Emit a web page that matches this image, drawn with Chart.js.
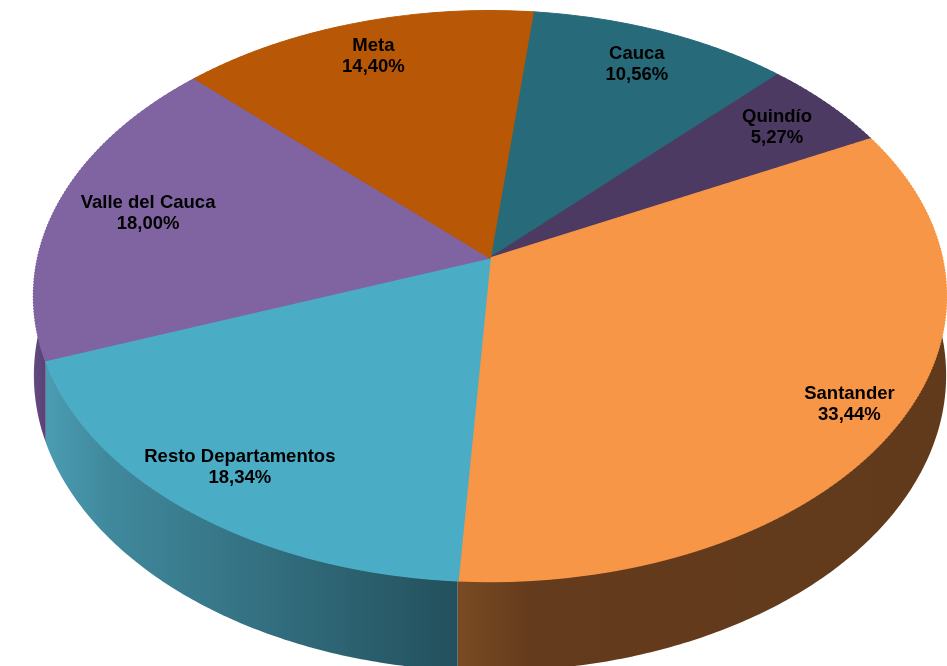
<!DOCTYPE html>
<html>
<head>
<meta charset="utf-8">
<script src="https://cdn.jsdelivr.net/npm/chart.js@4"></script>
<style>
  body { margin: 0; background: #fff; }
  #wrap { width: 947px; height: 666px; position: relative; }
</style>
</head>
<body>
<div id="wrap"><canvas id="pieChart"></canvas></div>
<script>
const departments = ['Cauca', 'Quindío', 'Santander', 'Resto Departamentos', 'Valle del Cauca', 'Meta'];
const shares = [10.56, 5.27, 33.44, 18.34, 18.00, 14.40];

const topColors = ['#276a7a', '#4d3a62', '#f79646', '#4bacc6', '#8064a2', '#b85705'];
// side shading: left, near-left, right
const sideColors = [
    ['#1f5663', '#1d5360', '#1a4a56'],
    ['#3e2f50', '#3b2c4c', '#352844'],
    ['#7a4b23', '#643b1c', '#613a1c'],
    ['#4b9cb2', '#40899d', '#23505c'],
    ['#6a5089', '#61497e', '#5a4276'],
    ['#8f4504', '#884104', '#7e3c03']
];
// how far out each label sits, as a fraction of the radius
const labelRadius = [0.84, 0.84, 0.89, 0.845, 0.79, 0.845];

// tilted pie seen in perspective, sizes relative to the pie radius
const WIDEN = 453 / 248;
const TILT = 281 / 248;
const PERSP = 0.133;
const THICK = 78 / 248;
const STRIP = 3;          // px height of each affine band of the top face

function frontRanges(start, end) {
    const out = [];
    for (let k = -2; k <= 2; k++) {
        const lo = Math.max(start, 2 * Math.PI * k);
        const hi = Math.min(end, 2 * Math.PI * k + Math.PI);
        if (hi > lo) out.push([lo, hi]);
    }
    return out;
}

function camera(chart) {
    const a = chart.getDatasetMeta(0).data[0];
    const R = a.outerRadius;
    return {
        ox: a.x, oy: a.y, R,
        A: R * WIDEN, B: R * TILT, D: R * THICK,
        proj(u, v) {
            const w = 1 - PERSP * v;
            return [a.x + R * WIDEN * u / w, a.y + R * TILT * v / w];
        }
    };
}

const pie3d = {
    id: 'pie3d',
    beforeDatasetsDraw(chart) {
        const ctx = chart.ctx;
        const arcs = chart.getDatasetMeta(0).data;
        const cam = camera(chart);

        // side walls
        arcs.forEach((arc, i) => {
            frontRanges(arc.startAngle, arc.endAngle).forEach(([a, b]) => {
                const n = Math.max(2, Math.ceil((b - a) / 0.01));
                const top = [], bottom = [];
                for (let k = 0; k <= n; k++) {
                    const t = a + (b - a) * k / n;
                    const v = Math.sin(t);
                    const [x, y] = cam.proj(Math.cos(t), v);
                    top.push([x, y]);
                    bottom.push([x, y + cam.D / (1 - PERSP * v)]);
                }
                const xs = top.map(p => p[0]);
                const x1 = Math.min(...xs);
                const x2 = Math.max(Math.max(...xs), x1 + 1);
                const g = ctx.createLinearGradient(x1, 0, x2, 0);
                g.addColorStop(0, sideColors[i][0]);
                g.addColorStop(0.15, sideColors[i][1]);
                g.addColorStop(1, sideColors[i][2]);
                ctx.beginPath();
                top.forEach(([x, y], k) => k ? ctx.lineTo(x, y) : ctx.moveTo(x, y));
                bottom.reverse().forEach(([x, y]) => ctx.lineTo(x, y));
                ctx.closePath();
                ctx.fillStyle = g;
                ctx.fill();
            });
        });

        // top face: the library's arcs, drawn band by band with a local affine map
        const yTop = Math.floor(cam.oy - cam.B / (1 + PERSP)) - 2;
        const yBot = Math.ceil(cam.oy + cam.B / (1 - PERSP)) + 2;
        for (let y0 = yTop; y0 < yBot; y0 += STRIP) {
            const Ym = (y0 + STRIP / 2 - cam.oy) / cam.B;
            const vm = Ym / (1 + PERSP * Ym);
            const w = 1 - PERSP * vm;
            const sx = cam.A / w / cam.R;
            const dy = cam.B / (w * w);
            ctx.save();
            ctx.beginPath();
            ctx.rect(0, y0, chart.width, STRIP);
            ctx.clip();
            ctx.translate(cam.ox, cam.oy + cam.B * vm / w - dy * vm);
            ctx.scale(sx, dy / cam.R);
            ctx.translate(-cam.ox, -cam.oy);
            arcs.forEach(arc => arc.draw(ctx));
            ctx.restore();
        }
        return false;
    },
    afterDraw(chart) {
        const ctx = chart.ctx;
        const arcs = chart.getDatasetMeta(0).data;
        const cam = camera(chart);
        ctx.save();
        ctx.fillStyle = '#000';
        ctx.textAlign = 'center';
        ctx.textBaseline = 'middle';
        ctx.font = 'bold 18.5px "Liberation Sans", Arial, sans-serif';
        arcs.forEach((arc, i) => {
            const mid = (arc.startAngle + arc.endAngle) / 2;
            const f = labelRadius[i];
            const [x, y] = cam.proj(f * Math.cos(mid), f * Math.sin(mid));
            const pct = shares[i].toFixed(2).replace('.', ',') + '%';
            ctx.fillText(departments[i], x, y - 10.5);
            ctx.fillText(pct, x, y + 10.5);
        });
        ctx.restore();
    }
};

new Chart(document.getElementById('pieChart'), {
    type: 'pie',
    data: {
        labels: departments,
        datasets: [{
            data: shares,
            backgroundColor: topColors,
            borderColor: topColors,
            borderWidth: 1
        }]
    },
    options: {
        responsive: true,
        maintainAspectRatio: false,
        animation: false,
        events: [],
        rotation: 6.2,
        layout: { padding: { left: 33, right: 0, top: 10, bottom: 160 } },
        plugins: {
            legend: { display: false },
            tooltip: { enabled: false }
        }
    },
    plugins: [pie3d]
});
</script>
</body>
</html>
